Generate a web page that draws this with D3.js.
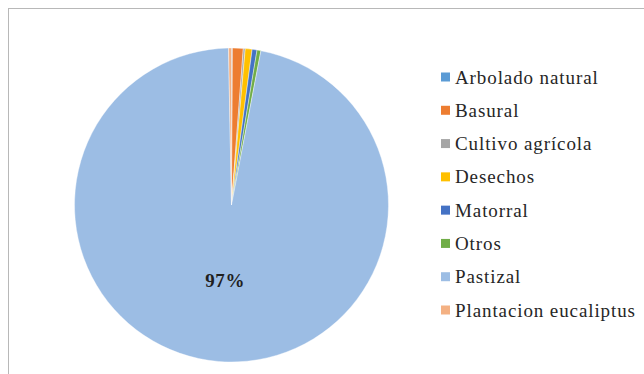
<!DOCTYPE html>
<html>
<head>
<meta charset="utf-8">
<script src="https://cdn.jsdelivr.net/npm/d3@7"></script>
<style>
  html, body { margin: 0; padding: 0; background: #fff; }
  svg { display: block; }
  .serif { font-family: "Liberation Serif", "DejaVu Serif", "Tinos", "Times New Roman", "Liberation Sans", sans-serif; }
</style>
</head>
<body>
<svg id="chart" width="644" height="374"></svg>
<script>
const categories = ["Arbolado natural", "Basural", "Cultivo agrícola", "Desechos", "Matorral", "Otros", "Pastizal", "Plantacion eucaliptus"];
const values = [0.1, 1.1, 0.2, 0.7, 0.5, 0.4, 96.7, 0.3];
const colors = ["#5B9BD5", "#ED7D31", "#A5A5A5", "#FFC000", "#4472C4", "#70AD47", "#9CBDE4", "#F4B183"];
const labels = ["", "", "", "", "", "", "97%", ""];

const svg = d3.select("#chart");

svg.append("rect")
  .attr("x", 8.5).attr("y", 8.5)
  .attr("width", 700).attr("height", 400)
  .attr("fill", "#fff")
  .attr("stroke", "#b8b8b8")
  .attr("stroke-width", 1);

const cx = 231.5, cy = 205, r = 157;
const data = categories.map((c, i) => ({ name: c, value: values[i], color: colors[i], label: labels[i] }));

const pie = d3.pie().sort(null).value(d => d.value);
const arc = d3.arc().innerRadius(0).outerRadius(r);
const arcs = pie(data);

const g = svg.append("g").attr("transform", `translate(${cx},${cy})`);
g.selectAll("path")
  .data(arcs)
  .join("path")
  .attr("d", arc)
  .attr("fill", d => d.data.color)
  .attr("stroke", "#ffffff")
  .attr("stroke-width", 0.4);

const labelArc = d3.arc().innerRadius(r * 0.48).outerRadius(r * 0.48);
g.selectAll("text.lbl")
  .data(arcs.filter(d => d.data.label))
  .join("text")
  .attr("class", "lbl serif")
  .attr("x", d => labelArc.centroid(d)[0])
  .attr("y", d => labelArc.centroid(d)[1])
  .attr("text-anchor", "middle")
  .attr("dominant-baseline", "central")
  .attr("font-weight", "bold")
  .attr("font-size", 19)
  .attr("letter-spacing", 0.6)
  .attr("fill", "#1f1f1f")
  .text(d => d.data.label);

const legY = d3.scalePoint().domain(categories).range([77, 310]);
const leg = svg.append("g");
const items = leg.selectAll("g").data(data).join("g")
  .attr("transform", d => `translate(441,${legY(d.name)})`);
items.append("rect")
  .attr("x", 0).attr("y", -4.5)
  .attr("width", 9).attr("height", 9)
  .attr("fill", d => d.color);
items.append("text")
  .attr("class", "serif")
  .attr("x", 14).attr("y", 0)
  .attr("dominant-baseline", "central")
  .attr("font-size", 19)
  .attr("letter-spacing", 0.9)
  .attr("fill", "#262626")
  .text(d => d.name);
</script>
</body>
</html>
